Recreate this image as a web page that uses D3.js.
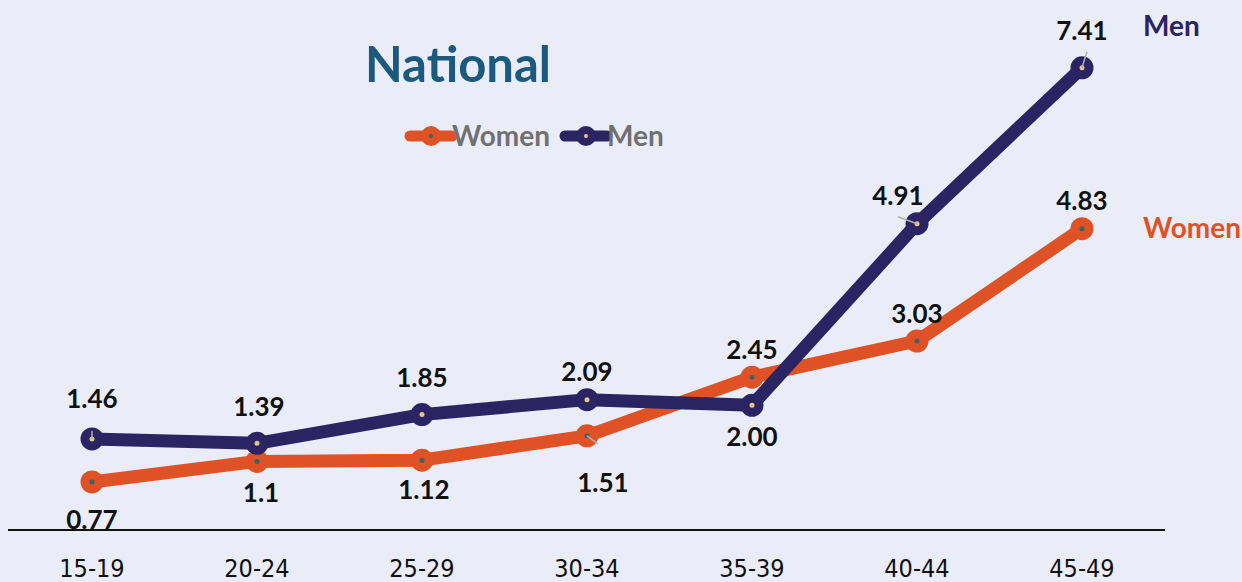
<!DOCTYPE html>
<html>
<head>
<meta charset="utf-8">
<script src="https://cdn.jsdelivr.net/npm/d3@7"></script>
<style>
  body { margin: 0; background: #eaedf7; }
  svg { display: block; }
  .lbl { font-family: Lato, "Open Sans", sans-serif; font-weight: bold; font-size: 26px; fill: #111; }
  .tick { font-family: "Liberation Sans Narrow", "DejaVu Sans Condensed", sans-serif; font-size: 25px; fill: #111; }
</style>
</head>
<body>
<svg id="chart" width="1242" height="582"></svg>
<script>
// age groups and values
var ageGroups = ['15-19', '20-24', '25-29', '30-34', '35-39', '40-44', '45-49'];
var women = [0.77, 1.1, 1.12, 1.51, 2.45, 3.03, 4.83];
var men = [1.46, 1.39, 1.85, 2.09, 2.00, 4.91, 7.41];
var womenLabels = ['0.77', '1.1', '1.12', '1.51', '2.45', '3.03', '4.83'];
var menLabels = ['1.46', '1.39', '1.85', '2.09', '2.00', '4.91', '7.41'];
// label placement: [dx, dy] from the point
var womenOffsets = [[0, 38], [4, 32], [2, 30], [16, 47], [0, -27], [0, -27], [0, -28]];
var menOffsets = [[0, -40], [2, -36], [0, -37], [0, -28], [0, 32], [-19, -28], [0, -37]];

var svg = d3.select('#chart');
var W_COLOR = '#df5226', M_COLOR = '#2b2462';

var x = d3.scalePoint().domain(ageGroups).range([92, 1082]);
var y = d3.scaleLinear().domain([0, 8]).range([530, 31]);

// baseline axis
svg.append('line')
    .attr('x1', 8).attr('x2', 1165)
    .attr('y1', y(0)).attr('y2', y(0))
    .attr('stroke', '#111').attr('stroke-width', 2);

svg.selectAll('text.tick').data(ageGroups)
    .enter().append('text')
    .attr('class', 'tick')
    .attr('x', function(d) { return x(d); })
    .attr('y', 577)
    .attr('text-anchor', 'middle')
    .text(function(d) { return d; });

// title
svg.append('text')
    .attr('x', 458).attr('y', 82)
    .attr('text-anchor', 'middle')
    .style('font-family', 'Lato, sans-serif')
    .style('font-weight', 'bold')
    .style('font-size', '49px')
    .attr('fill', '#1c5a7d')
    .text('National');

var line = d3.line()
    .x(function(d, i) { return x(ageGroups[i]); })
    .y(function(d) { return y(d); });

function drawSeries(values, color, dotColor, labels, offsets) {
    var g = svg.append('g');
    g.append('path').datum(values)
        .attr('d', line)
        .attr('fill', 'none')
        .attr('stroke', color)
        .attr('stroke-width', 13)
        .attr('stroke-linejoin', 'round');
    g.selectAll('circle.m').data(values)
        .enter().append('circle')
        .attr('cx', function(d, i) { return x(ageGroups[i]); })
        .attr('cy', function(d) { return y(d); })
        .attr('r', 11.5)
        .attr('fill', color);
    g.selectAll('circle.dot').data(values)
        .enter().append('circle')
        .attr('cx', function(d, i) { return x(ageGroups[i]); })
        .attr('cy', function(d) { return y(d); })
        .attr('r', 2.5)
        .attr('fill', dotColor);
    g.selectAll('text').data(values)
        .enter().append('text')
        .attr('class', 'lbl')
        .attr('x', function(d, i) { return x(ageGroups[i]) + offsets[i][0]; })
        .attr('y', function(d, i) { return y(d) + offsets[i][1] + 9; })
        .attr('text-anchor', 'middle')
        .text(function(d, i) { return labels[i]; });
}

drawSeries(women, W_COLOR, '#3e5f68', womenLabels, womenOffsets);
drawSeries(men, M_COLOR, '#e2c48a', menLabels, menOffsets);

// small leader lines
var leaders = [
    [x('15-19'), y(1.46), 0, -8],
    [x('30-34'), y(1.51), 11, 8],
    [x('40-44'), y(4.91), -19, -7],
    [x('45-49'), y(7.41), 5, -16]
];
leaders.forEach(function(l) {
    svg.append('line')
        .attr('x1', l[0]).attr('y1', l[1])
        .attr('x2', l[0] + l[2]).attr('y2', l[1] + l[3])
        .attr('stroke', '#b0b0b0').attr('stroke-width', 1.5);
});

// legend
var legend = [['Women', W_COLOR, '#3e5f68', 410], ['Men', M_COLOR, '#e2c48a', 565]];
legend.forEach(function(l) {
    var lg = svg.append('g').attr('transform', 'translate(' + l[3] + ',136)');
    lg.append('line').attr('x1', 0).attr('x2', 42).attr('stroke', l[1])
        .attr('stroke-width', 11).attr('stroke-linecap', 'round');
    lg.append('circle').attr('cx', 21).attr('r', 10).attr('fill', l[1]);
    lg.append('circle').attr('cx', 21).attr('r', 2).attr('fill', l[2]);
    lg.append('text').attr('x', 42).attr('y', 10)
        .style('font-family', 'Lato, sans-serif').style('font-weight', 'bold')
        .style('font-size', '28px').attr('fill', '#707070')
        .text(l[0]);
});

// end labels
svg.append('text').attr('x', 1143).attr('y', 36)
    .style('font-family', 'Lato, sans-serif').style('font-weight', 'bold')
    .style('font-size', '28px').attr('fill', M_COLOR).text('Men');
svg.append('text').attr('x', 1143).attr('y', 238)
    .style('font-family', 'Lato, sans-serif').style('font-weight', 'bold')
    .style('font-size', '28px').attr('fill', W_COLOR).text('Women');
</script>
</body>
</html>
